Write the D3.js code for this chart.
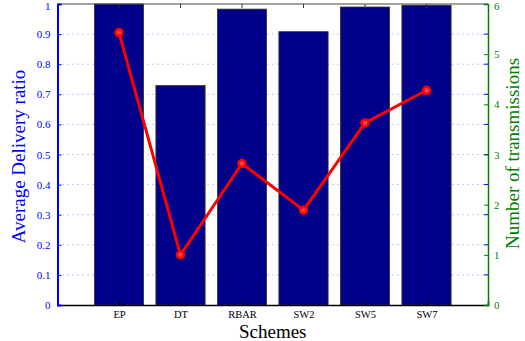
<!DOCTYPE html>
<html>
<head>
<meta charset="utf-8">
<script src="https://cdn.jsdelivr.net/npm/d3@7"></script>
<style>
  body { margin: 0; background: #fff; }
  svg text { font-family: "Liberation Serif", "DejaVu Serif", serif; }
</style>
</head>
<body>
<div id="chart"></div>
<script>
// data
var schemes = ["EP", "DT", "RBAR", "SW2", "SW5", "SW7"];
var deliveryRatio = [1.0, 0.729, 0.983, 0.908, 0.990, 0.996];
var transmissions = [5.43, 1.0, 2.82, 1.89, 3.63, 4.28];
var leftTicks = [0, 0.1, 0.2, 0.3, 0.4, 0.5, 0.6, 0.7, 0.8, 0.9, 1];
var rightTicks = [0, 1, 2, 3, 4, 5, 6];

var margin = {top: 4, right: 37, bottom: 36, left: 57.5},
    width = 525 - margin.left - margin.right,
    height = 341 - margin.top - margin.bottom;

var svg = d3.select("#chart")
  .append("svg")
    .attr("width", 525)
    .attr("height", 341)
  .append("g")
    .attr("transform", "translate(" + margin.left + "," + margin.top + ")");

// x scale: positions 1..6 in a [0,7] range like matlab
var x = d3.scaleLinear().domain([0, 7]).range([0, width]);
var y = d3.scaleLinear().domain([0, 1]).range([height, 0]);
var y2 = d3.scaleLinear().domain([0, 6]).range([height, 0]);
var barW = x(0.8) - x(0);

// grid lines (dotted, blue)
svg.selectAll(".grid")
  .data(leftTicks.slice(1, -1))
  .enter()
  .append("line")
    .attr("x1", 0).attr("x2", width)
    .attr("y1", function(d) { return y(d); })
    .attr("y2", function(d) { return y(d); })
    .style("stroke", "#8c8cff")
    .style("stroke-width", 1)
    .style("stroke-dasharray", "1,4");

// bars
svg.selectAll(".bar")
  .data(deliveryRatio)
  .enter()
  .append("rect")
    .attr("x", function(d, i) { return x(i + 1) - barW / 2; })
    .attr("y", function(d) { return y(d); })
    .attr("width", barW)
    .attr("height", function(d) { return height - y(d); })
    .style("fill", "#00008b")
    .style("stroke", "#333")
    .style("stroke-width", 0.8);

// top border with ticks
svg.append("line")
  .attr("x1", 0).attr("x2", width).attr("y1", 0).attr("y2", 0)
  .style("stroke", "#444").style("stroke-width", 1.2);
svg.selectAll(".ttick")
  .data(schemes)
  .enter()
  .append("line")
    .attr("x1", function(d, i) { return x(i + 1); })
    .attr("x2", function(d, i) { return x(i + 1); })
    .attr("y1", 0).attr("y2", 4)
    .style("stroke", "#333");

// bottom axis
svg.append("g")
  .attr("transform", "translate(0," + height + ")")
  .call(d3.axisBottom(x).tickValues([1, 2, 3, 4, 5, 6]).tickSize(-4).tickPadding(6)
    .tickFormat(function(d) { return schemes[d - 1]; }))
  .call(function(g) {
    g.select(".domain").style("stroke", "#000").style("stroke-width", 1.5);
    g.selectAll(".tick line").style("stroke", "#000");
    g.selectAll("text").style("font-size", "10.5px").style("fill", "#000");
  });

// left axis (blue)
svg.append("g")
  .call(d3.axisLeft(y).tickValues(leftTicks).tickSize(-4).tickPadding(7)
    .tickFormat(function(d) { return d === 0 || d === 1 ? d3.format("d")(d) : d3.format(".1f")(d); }))
  .call(function(g) {
    g.select(".domain").style("stroke", "#0000ff").style("stroke-width", 2);
    g.selectAll(".tick line").style("stroke", "#0000ff");
    g.selectAll("text").style("font-size", "11px").style("fill", "#0000ff");
    // keep the top label inside the page
    g.selectAll("text").filter(function(d) { return d === 1; }).attr("dy", "0.5em");
  });

// blue mirrored ticks on right side
svg.selectAll(".rbtick")
  .data(leftTicks.slice(1, -1))
  .enter()
  .append("line")
    .attr("x1", width - 4).attr("x2", width)
    .attr("y1", function(d) { return y(d); })
    .attr("y2", function(d) { return y(d); })
    .style("stroke", "#0000ff");

// right axis (green)
svg.append("g")
  .attr("transform", "translate(" + width + ",0)")
  .call(d3.axisRight(y2).tickValues(rightTicks).tickSize(-4).tickPadding(6).tickFormat(d3.format("d")))
  .call(function(g) {
    g.select(".domain").style("stroke", "#008000").style("stroke-width", 1.5);
    g.selectAll(".tick line").style("stroke", "#008000");
    g.selectAll("text").style("font-size", "11px").style("fill", "#008000");
    g.selectAll("text").filter(function(d) { return d === 6; }).attr("dy", "0.5em");
  });

// line for transmissions
var line = d3.line()
  .x(function(d, i) { return x(i + 1); })
  .y(function(d) { return y2(d); });

svg.append("path")
  .datum(transmissions)
  .attr("d", line)
  .style("fill", "none")
  .style("stroke", "#ff0000")
  .style("stroke-width", 3);

svg.selectAll(".pt")
  .data(transmissions)
  .enter()
  .append("circle")
    .attr("cx", function(d, i) { return x(i + 1); })
    .attr("cy", function(d) { return y2(d); })
    .attr("r", 3.5)
    .style("fill", "#ff4040")
    .style("stroke", "#ff0000")
    .style("stroke-width", 2.5);

// axis labels
svg.append("text")
  .attr("x", width / 2)
  .attr("y", height + 32.5)
  .attr("text-anchor", "middle")
  .style("font-size", "19px")
  .text("Schemes");

svg.append("text")
  .attr("transform", "translate(" + (-33) + "," + (height / 2 + 2) + ") rotate(-90)")
  .attr("text-anchor", "middle")
  .style("font-size", "19px")
  .style("fill", "#0000ff")
  .text("Average Delivery ratio");

svg.append("text")
  .attr("transform", "translate(" + (width + 31) + "," + (height / 2 - 1) + ") rotate(-90)")
  .attr("text-anchor", "middle")
  .style("font-size", "19px")
  .style("fill", "#008000")
  .text("Number of transmissions");
</script>
</body>
</html>
